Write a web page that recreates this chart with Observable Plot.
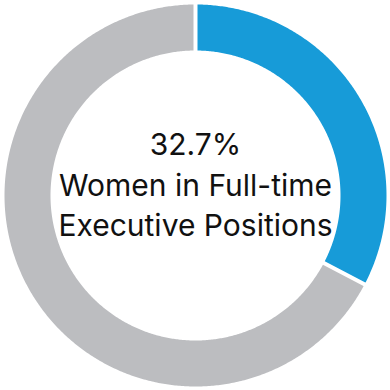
<!DOCTYPE html>
<html>
<head>
<meta charset="utf-8">
<script src="https://cdn.jsdelivr.net/npm/d3@7"></script>
<script src="https://cdn.jsdelivr.net/npm/@observablehq/plot@0.6"></script>
<style>
  html, body { margin: 0; padding: 0; background: #fff; }
  #chart svg { display: block; }
</style>
</head>
<body>
<div id="chart"></div>
<script>
const categories = ["Women", "Men"];
const values = [32.7, 67.3];
const colors = ["#179bd8", "#bcbdc0"];
const centerLines = ["32.7%", "Women in Full-time", "Executive Positions"];

const R = 1, r = 145 / 191;
const total = d3.sum(values);
let acc = 0;
const slices = values.map((v, i) => {
  const a0 = acc / total * 2 * Math.PI;
  acc += v;
  const a1 = acc / total * 2 * Math.PI;
  const n = Math.max(2, Math.ceil((a1 - a0) / (Math.PI / 360)));
  const outer = d3.range(n + 1).map(k => { const a = a0 + (a1 - a0) * k / n; return [R * Math.sin(a), R * Math.cos(a)]; });
  const inner = d3.range(n + 1).map(k => { const a = a1 - (a1 - a0) * k / n; return [r * Math.sin(a), r * Math.cos(a)]; });
  const ring = outer.concat(inner);
  ring.push(ring[0]);
  return {type: "Feature", properties: {name: categories[i], color: colors[i], a0, a1}, geometry: {type: "Polygon", coordinates: [ring]}};
});
const gaps = slices.map(s => {
  const a = s.properties.a0;
  return {type: "LineString", coordinates: [[r * 0.97 * Math.sin(a), r * 0.97 * Math.cos(a)], [1.03 * Math.sin(a), 1.03 * Math.cos(a)]]};
});
const circle = {type: "Polygon", coordinates: [d3.range(0, 361, 2).map(d => [Math.sin(d * Math.PI / 180), Math.cos(d * Math.PI / 180)])]};

const chart = Plot.plot({
  width: 390,
  height: 390,
  margin: 4,
  projection: {type: "reflect-y", domain: circle},
  marks: [
    Plot.geo(slices, {fill: d => d.properties.color, stroke: "none"}),
    Plot.geo(gaps, {stroke: "white", strokeWidth: 4}),
    Plot.text([centerLines.join("\n")], {
      x: () => 0, y: () => 0, text: d => d,
      fontSize: 30, lineHeight: 1.36, fill: "#111",
      fontFamily: "Inter, 'Liberation Sans', sans-serif",
      textAnchor: "middle", lineAnchor: "middle", dy: -13
    })
  ]
});
document.getElementById("chart").append(chart);
</script>
</body>
</html>
